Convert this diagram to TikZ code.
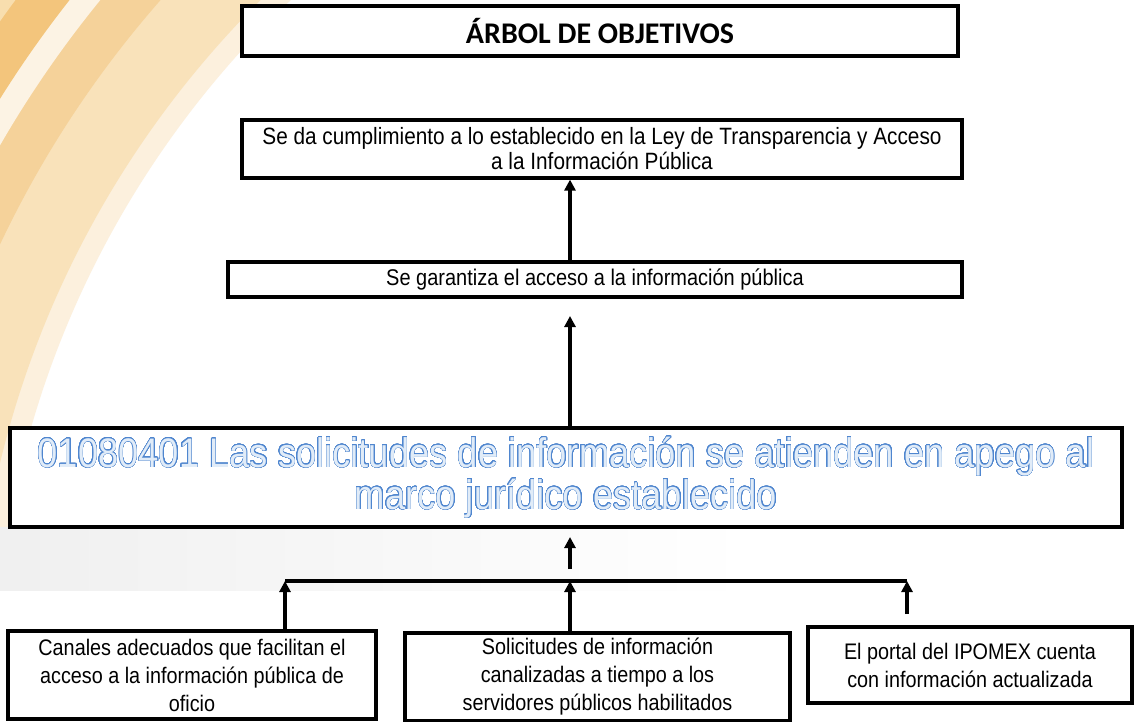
\documentclass[tikz,border=0pt]{standalone}
\usepackage{fontspec}
\setmainfont{Liberation Sans}
\newfontfamily\boxfont[FakeStretch=0.88]{Liberation Sans}
\newfontfamily\titlefont{Carlito}
\usepackage{contour}
\usetikzlibrary{arrows.meta}
\definecolor{or0}{HTML}{FCF0DD}
\definecolor{or1}{HTML}{F9E2BA}
\definecolor{or2}{HTML}{F5D29A}
\definecolor{or3}{HTML}{FCF3E4}
\definecolor{or4}{HTML}{F3C57C}
\definecolor{or5}{HTML}{F8DEAE}
\definecolor{mline}{HTML}{4F86CF}
\definecolor{mfill}{HTML}{E1ECF8}
\contourlength{0.45pt}
\contournumber{32}
\newcommand{\mtext}[1]{\contour{mline}{\color{mfill}#1}}
\begin{document}
\begin{tikzpicture}[x=1pt,y=-1pt,
  box/.style={draw=black, line width=3.2pt, fill=white, inner sep=0pt, align=center, font=\boxfont\fontsize{22.5}{28}\selectfont},
  arr/.style={line width=3.3pt, -{Triangle[width=11pt,length=11pt]}},
  busline/.style={line width=3.3pt}]
\useasboundingbox (0,0) rectangle (1134,721);
% background watermark
\begin{scope}
\clip (0,0) rectangle (1134,721);
\fill[white] (0,0) rectangle (1134,721);
\fill[or0, even odd rule] (-10,-10) rectangle (1144,731) (949,692) circle[radius=955pt];
\fill[or1, even odd rule] (-10,-10) rectangle (1144,731) (949,692) circle[radius=976pt];
\fill[or2, even odd rule] (-10,-10) rectangle (1144,731) (949,692) circle[radius=1049pt];
\fill[or3, even odd rule] (-10,-10) rectangle (1144,731) (949,692) circle[radius=1095pt];
\fill[or4, even odd rule] (-10,-10) rectangle (1144,731) (949,692) circle[radius=1119pt];
\fill[or5, even odd rule] (-10,-10) rectangle (1144,731) (949,692) circle[radius=1162pt];
\shade[left color=gray!12, right color=white] (0,527) rectangle (750,590);
\end{scope}
% nodes
\node[box, minimum width=716pt, minimum height=50pt] (title) at (600,31)
  {\titlefont\bfseries\fontsize{30}{34}\selectfont ÁRBOL DE OBJETIVOS};
\node[box, minimum width=720pt, minimum height=58pt, font=\boxfont\fontsize{23.6}{25}\selectfont] (b2) at (602,149)
  {Se da cumplimiento a lo establecido en la Ley de Transparencia y Acceso\\a la Información Pública};
\node[box, minimum width=734pt, minimum height=35pt, font=\boxfont\fontsize{22.7}{25}\selectfont] (b3) at (595,279.5)
  {Se garantiza el acceso a la información pública};
\node[box, minimum width=1112pt, minimum height=99pt, font=\boxfont\fontsize{41.3}{42}\selectfont] (main) at (566,477.5)
  {\mtext{01080401 Las solicitudes de información se atienden en apego al}\\
   \mtext{marco jurídico establecido}};
\node[box, minimum width=368pt, minimum height=88pt] (bA) at (192,675)
  {Canales adecuados que facilitan el\\acceso a la información pública de\\oficio};
\node[box, minimum width=385pt, minimum height=88pt] (bB) at (597.5,677)
  {Solicitudes de información\\canalizadas a tiempo a los\\servidores públicos habilitados};
\node[box, minimum width=324pt, minimum height=76pt] (bC) at (970,665)
  {El portal del IPOMEX cuenta\\con información actualizada};
% connectors
\coordinate (cx) at (570,0);
\coordinate (t2) at (570,316);
\coordinate (s3) at (570,569);
\coordinate (t3) at (570,537);
\coordinate (busL) at (285,581);
\coordinate (busR) at (907,581);
\coordinate (sC) at (907,614);
\draw[arr] (b3.north -| cx) -- (b2.south -| cx);
\draw[arr] (main.north -| cx) -- (t2);
\draw[arr] (s3) -- (t3);
\draw[busline] (busL) -- (busR);
\draw[arr] (bA.north -| busL) -- (busL);
\draw[arr] (bB.north -| cx) -- (cx |- busL);
\draw[arr] (sC) -- (busR);
\end{tikzpicture}
\end{document}
